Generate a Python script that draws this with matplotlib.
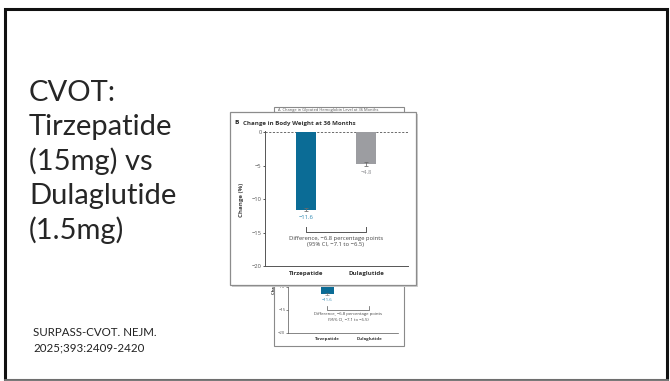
import matplotlib
matplotlib.use("Agg")
import matplotlib.pyplot as plt
from matplotlib.patches import Rectangle

# ---- data -------------------------------------------------------------
groups = ["Tirzepatide", "Dulaglutide"]
change_pct = [-11.6, -4.8]
change_err = [0.25, 0.25]
yticks = [0, -5, -10, -15, -20]
bar_colors = ["#0b6c96", "#9c9da1"]
label_colors = ["#2a86b0", "#8a8b8f"]
diff_lines = ["Difference, \u22126.8 percentage points", "(95% CI, \u22127.1 to \u22126.5)"]
slide_title = ["CVOT:", "Tirzepatide", "(15mg) vs", "Dulaglutide", "(1.5mg)"]
citation = ["SURPASS-CVOT. NEJM.", "2025;393:2409-2420"]
panel_b_title = "Change in Body Weight at 36 Months"
panel_a_title = "Change in Glycated Hemoglobin Level at 36 Months"

W, H = 670, 381
fig = plt.figure(figsize=(W / 100, H / 100), dpi=100)
fig.patch.set_facecolor("white")


def box(left, top, right, bottom):
    """Pixel box (origin top-left) -> figure fraction rect."""
    return [left / W, 1 - bottom / H, (right - left) / W, (bottom - top) / H]


def layer(z):
    a = fig.add_axes([0, 0, 1, 1], zorder=z)
    a.set_xlim(0, W)
    a.set_ylim(H, 0)
    a.axis("off")
    a.patch.set_alpha(0)
    return a


def fmt(v):
    return ("\u2212" if v < 0 else "") + f"{abs(v):.1f}"


def draw_chart(ax, fs, bar_w, lw, tick_len, show_diff=True):
    x = list(range(len(groups)))
    ax.bar(x, change_pct, width=bar_w, color=bar_colors, zorder=2)
    ax.errorbar(x, change_pct, yerr=change_err, fmt="none", ecolor="#6b6b6b",
                elinewidth=lw * 0.8, capsize=fs * 0.35, capthick=lw * 0.8, zorder=3)
    ax.axhline(0, color="#6a6a6a", lw=lw, ls=(0, (2.2, 1.6)), zorder=1)
    for i, v in enumerate(change_pct):
        ax.text(i, v - 0.85, fmt(v), ha="center", va="top", fontsize=fs * 0.95,
                color=label_colors[i], family="Open Sans")
    # bracket between the two groups
    yb = -14.9
    ax.plot([0, 0, 1, 1], [yb + 0.7, yb, yb, yb + 0.7], color="#555555", lw=lw, zorder=2)
    if show_diff:
        ax.text(0.5, yb - 0.6, "\n".join(diff_lines), ha="center", va="top",
                fontsize=fs * 0.97, color="#444444", family="Open Sans", linespacing=1.25)
    ax.set_yticks(yticks)
    ax.set_yticklabels([fmt(t).replace(".0", "") if t else "0" for t in yticks])
    ax.set_xticks(x)
    ax.set_xticklabels(groups, fontweight="bold")
    ax.tick_params(axis="y", length=tick_len, width=lw, color="#555555",
                   labelsize=fs * 0.95, labelcolor="#555555", pad=0.6)
    ax.tick_params(axis="x", length=0, labelsize=fs, labelcolor="#333333", pad=fs * 0.9)
    for lab in ax.get_xticklabels() + ax.get_yticklabels():
        lab.set_family("Open Sans")
    for s in ("top", "right"):
        ax.spines[s].set_visible(False)
    for s in ("left", "bottom"):
        ax.spines[s].set_color("#555555")
        ax.spines[s].set_linewidth(lw)
    ax.patch.set_alpha(0)


# ---- slide background ---------------------------------------------------
bg = layer(0)
bg.add_patch(Rectangle((5, 9), 662, 371, fill=False, ec="#111111", lw=2.2))
bg.plot([5, 667], [380, 380], color="#7a7a7a", lw=2)
y0 = 93
for i, line in enumerate(slide_title):
    bg.text(29, y0 + i * 34.3, line, fontsize=21, family="Lato", fontweight="normal",
            color="#262626", va="center", ha="left")
for i, line in enumerate(citation):
    bg.text(33, 332 + i * 15.5, line, fontsize=8.3, family="Lato", color="#222222",
            va="center", ha="left")

# rear panel (panel A copy, partly hidden)
bg.add_patch(Rectangle((274, 107), 130, 239, fc="white", ec="#8a8a8a", lw=0.8))
bg.text(278, 110.5, "A  " + panel_a_title, fontsize=2.9, family="Open Sans",
        color="#555555", va="center", ha="left")

ax_back = fig.add_axes(box(288, 240, 398, 333), zorder=1)
ax_back.set_ylim(-20, 0.2)
ax_back.set_xlim(-0.93, 1.69)
draw_chart(ax_back, fs=3.2, bar_w=0.31, lw=0.5, tick_len=1.2)
ax_back.text(-1.26, -9.0, "Change (%)", rotation=90, ha="center", va="center",
             fontsize=3.0, fontweight="bold", family="Open Sans", color="#333333")

# ---- front panel ------------------------------------------------------------
fg = layer(2)
fg.add_patch(Rectangle((231.5, 113.5), 186, 173, fc="#cfcfcf", ec="none"))
fg.add_patch(Rectangle((230, 112), 186, 173, fc="white", ec="#8c8c8c", lw=0.9))
fg.text(234, 123, "B", fontsize=4.6, fontweight="bold", family="Open Sans",
        color="#222222", va="center", ha="left")
fg.text(243, 123, panel_b_title, fontsize=4.4, fontweight="bold", family="Open Sans",
        color="#333333", va="center", ha="left")
fg.text(241, 200, "Change (%)", rotation=90, fontsize=4.4, fontweight="bold",
        family="Open Sans", color="#444444", va="center", ha="center")

ax = fig.add_axes(box(265, 131, 408, 266), zorder=3)
ax.set_ylim(-20, 0.15)
ax.set_xlim(-0.683, 1.70)
draw_chart(ax, fs=4.4, bar_w=0.32, lw=0.7, tick_len=1.8)

fig.savefig("out.png", dpi=100, facecolor="white")
